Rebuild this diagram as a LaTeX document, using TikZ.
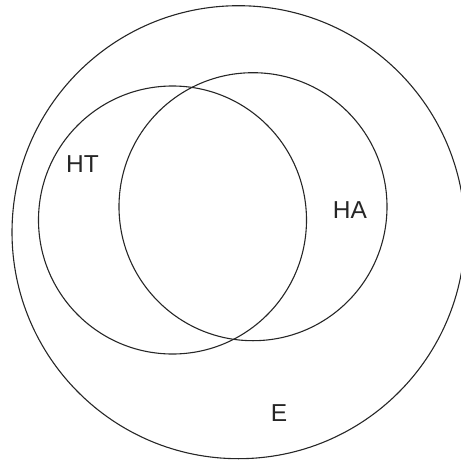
\documentclass[tikz,border=0pt]{standalone}
\usepackage{fontspec}
\setmainfont{Liberation Sans}
\begin{document}
\begin{tikzpicture}[x=1pt,y=-1pt,
  ring/.style={draw=black!85,line width=1.1pt,circle,inner sep=0pt},
  lbl/.style={font=\fontsize{24.5}{26}\selectfont,text=black!85,inner sep=0pt}]
\path[use as bounding box] (0,0) rectangle (461,461);
\clip (0,0) rectangle (461,461);
\node[ring,minimum size=453pt] (E) at (238.5,232.2) {};
\node[ring,minimum size=268pt] (HT) at (172.5,220) {};
\node[ring,minimum size=268pt] (HA) at (253,206.7) {};
\node[lbl] (tHT) at (82.5,164.5) {HT};
\node[lbl] (tHA) at (350,209.7) {HA};
\node[lbl] (tE) at (279,413) {E};
\end{tikzpicture}
\end{document}
